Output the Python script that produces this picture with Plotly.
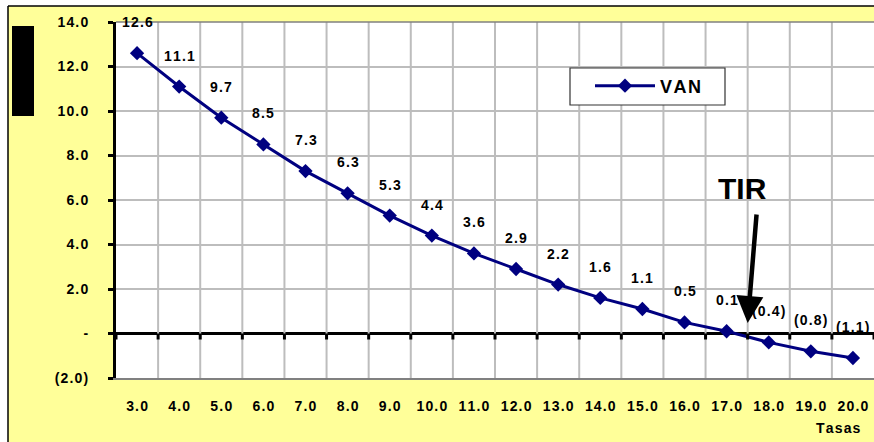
import plotly.graph_objects as go

# ---- data ----
tasas = [3.0, 4.0, 5.0, 6.0, 7.0, 8.0, 9.0, 10.0, 11.0, 12.0, 13.0, 14.0, 15.0, 16.0, 17.0, 18.0, 19.0, 20.0]
van = [12.6, 11.1, 9.7, 8.5, 7.3, 6.3, 5.3, 4.4, 3.6, 2.9, 2.2, 1.6, 1.1, 0.5, 0.1, -0.4, -0.8, -1.1]
y_tick_vals = [-2, 0, 2, 4, 6, 8, 10, 12, 14]
y_tick_text = ["(2.0)", "-", "2.0", "4.0", "6.0", "8.0", "10.0", "12.0", "14.0"]
x_tick_text = ["%.1f" % t for t in tasas]
tir_x, tir_y = 17.5, 0.47

NAVY = "#000080"
YELLOW = "#FFFF99"
GRID = "#BDBDBD"
FONT = "Liberation Sans, Arial, sans-serif"
W, H = 874, 442
L, R, T, B = 116, 0, 22, 64
GAP = "\u200a"


def sp(s):
    """Bold text with Excel-like letter spacing."""
    return "<b>" + GAP.join(list(s)) + "</b>"


def fmt(v):
    return "(%.1f)" % abs(v) if v < 0 else "%.1f" % v


xr = [tasas[0] - 0.5, tasas[-1] + 0.5]
yr = [-2, 14]
pw = W - L - R
ph = H - T - B
boundaries = [t - 0.5 for t in tasas] + [tasas[-1] + 0.5]


def px_x(p):
    return (p - L) / pw


def px_y(p):
    return (H - B - p) / ph


fig = go.Figure()
fig.add_trace(go.Scatter(
    x=tasas, y=van, mode="lines+markers", name=sp("VAN"),
    line=dict(color=NAVY, width=3),
    marker=dict(symbol="diamond", size=11, color=NAVY),
    hoverinfo="skip",
))

annotations = []
for t, v in zip(tasas, van):
    annotations.append(dict(
        x=t, y=v, text=sp(fmt(v)), showarrow=False, yshift=31,
        font=dict(family=FONT, size=14, color="black"),
    ))
# TIR arrow and label
annotations.append(dict(
    x=tir_x, y=tir_y, text="", showarrow=True, ax=9, ay=-110,
    arrowhead=2, arrowsize=1.2, arrowwidth=4.5, arrowcolor="black",
))
annotations.append(dict(
    x=tir_x, y=tir_y, text="<b>TIR</b>", showarrow=False, yshift=135, xshift=-5,
    font=dict(family=FONT, size=30, color="black"),
))
annotations.append(dict(
    xref="paper", yref="paper", x=px_x(838), y=px_y(428), xanchor="center", yanchor="middle",
    text=sp("Tasas"), showarrow=False, font=dict(family=FONT, size=14, color="black"),
))

shapes = []
# vertical grid lines at category boundaries
for b in boundaries[1:-1]:
    shapes.append(dict(type="line", xref="x", yref="y", x0=b, x1=b, y0=yr[0], y1=yr[1],
                       line=dict(color=GRID, width=2), layer="between"))
# tick marks on the zero line at category boundaries
for b in boundaries:
    shapes.append(dict(type="line", xref="x", yref="y", x0=b, x1=b,
                       ysizemode="pixel", yanchor=0, y0=0, y1=-6,
                       line=dict(color="black", width=3), layer="above"))
shapes += [
    # white strips outside the chart frame
    dict(type="rect", xref="paper", yref="paper", x0=px_x(-5), x1=px_x(8), y0=px_y(450), y1=px_y(-5),
         fillcolor="white", line=dict(width=0), layer="above"),
    dict(type="rect", xref="paper", yref="paper", x0=px_x(-5), x1=px_x(880), y0=px_y(6), y1=px_y(-5),
         fillcolor="white", line=dict(width=0), layer="above"),
    # frame lines
    dict(type="line", xref="paper", yref="paper", x0=px_x(8), x1=px_x(8), y0=px_y(450), y1=px_y(6),
         line=dict(color="black", width=1.5)),
    dict(type="line", xref="paper", yref="paper", x0=px_x(8), x1=px_x(880), y0=px_y(6), y1=px_y(6),
         line=dict(color="black", width=1.5)),
    # black y-axis title block
    dict(type="rect", xref="paper", yref="paper", x0=px_x(12), x1=px_x(34), y0=px_y(116), y1=px_y(26),
         fillcolor="black", line=dict(width=0)),
    # plot area top border
    dict(type="line", xref="paper", yref="paper", x0=0, x1=1, y0=1, y1=1,
         line=dict(color="#808080", width=1.5)),
    # legend box
    dict(type="rect", xref="paper", yref="paper", x0=px_x(570), x1=px_x(725), y0=px_y(105), y1=px_y(68),
         fillcolor="white", line=dict(color="#333333", width=1.2), layer="above"),
]

fig.update_layout(
    width=W, height=H,
    margin=dict(l=L, r=R, t=T, b=B),
    paper_bgcolor=YELLOW, plot_bgcolor="white",
    font=dict(family=FONT, size=14, color="black"),
    showlegend=True,
    legend=dict(
        x=px_x(590), y=px_y(86), xanchor="left", yanchor="middle",
        bgcolor="rgba(0,0,0,0)", borderwidth=0,
        font=dict(family=FONT, size=18, color="black"),
        itemwidth=60,
    ),
    xaxis=dict(
        range=xr, tickvals=tasas, ticktext=[sp(s) for s in x_tick_text],
        showgrid=False, zeroline=False, ticks="", ticklabelstandoff=14,
        showline=True, linecolor="#808080", linewidth=1.5,
        tickfont=dict(family=FONT, size=14, color="black"),
        fixedrange=True,
    ),
    yaxis=dict(
        range=yr, tickvals=y_tick_vals, ticktext=[sp(s) for s in y_tick_text],
        showgrid=True, gridcolor=GRID, gridwidth=1.5,
        zeroline=True, zerolinecolor="black", zerolinewidth=3,
        showline=True, linecolor="black", linewidth=3,
        ticks="outside", ticklen=5, tickwidth=3, tickcolor="black",
        ticklabelstandoff=17,
        tickfont=dict(family=FONT, size=14, color="black"),
        fixedrange=True,
    ),
    annotations=annotations,
    shapes=shapes,
)

fig.write_html("out.html")
